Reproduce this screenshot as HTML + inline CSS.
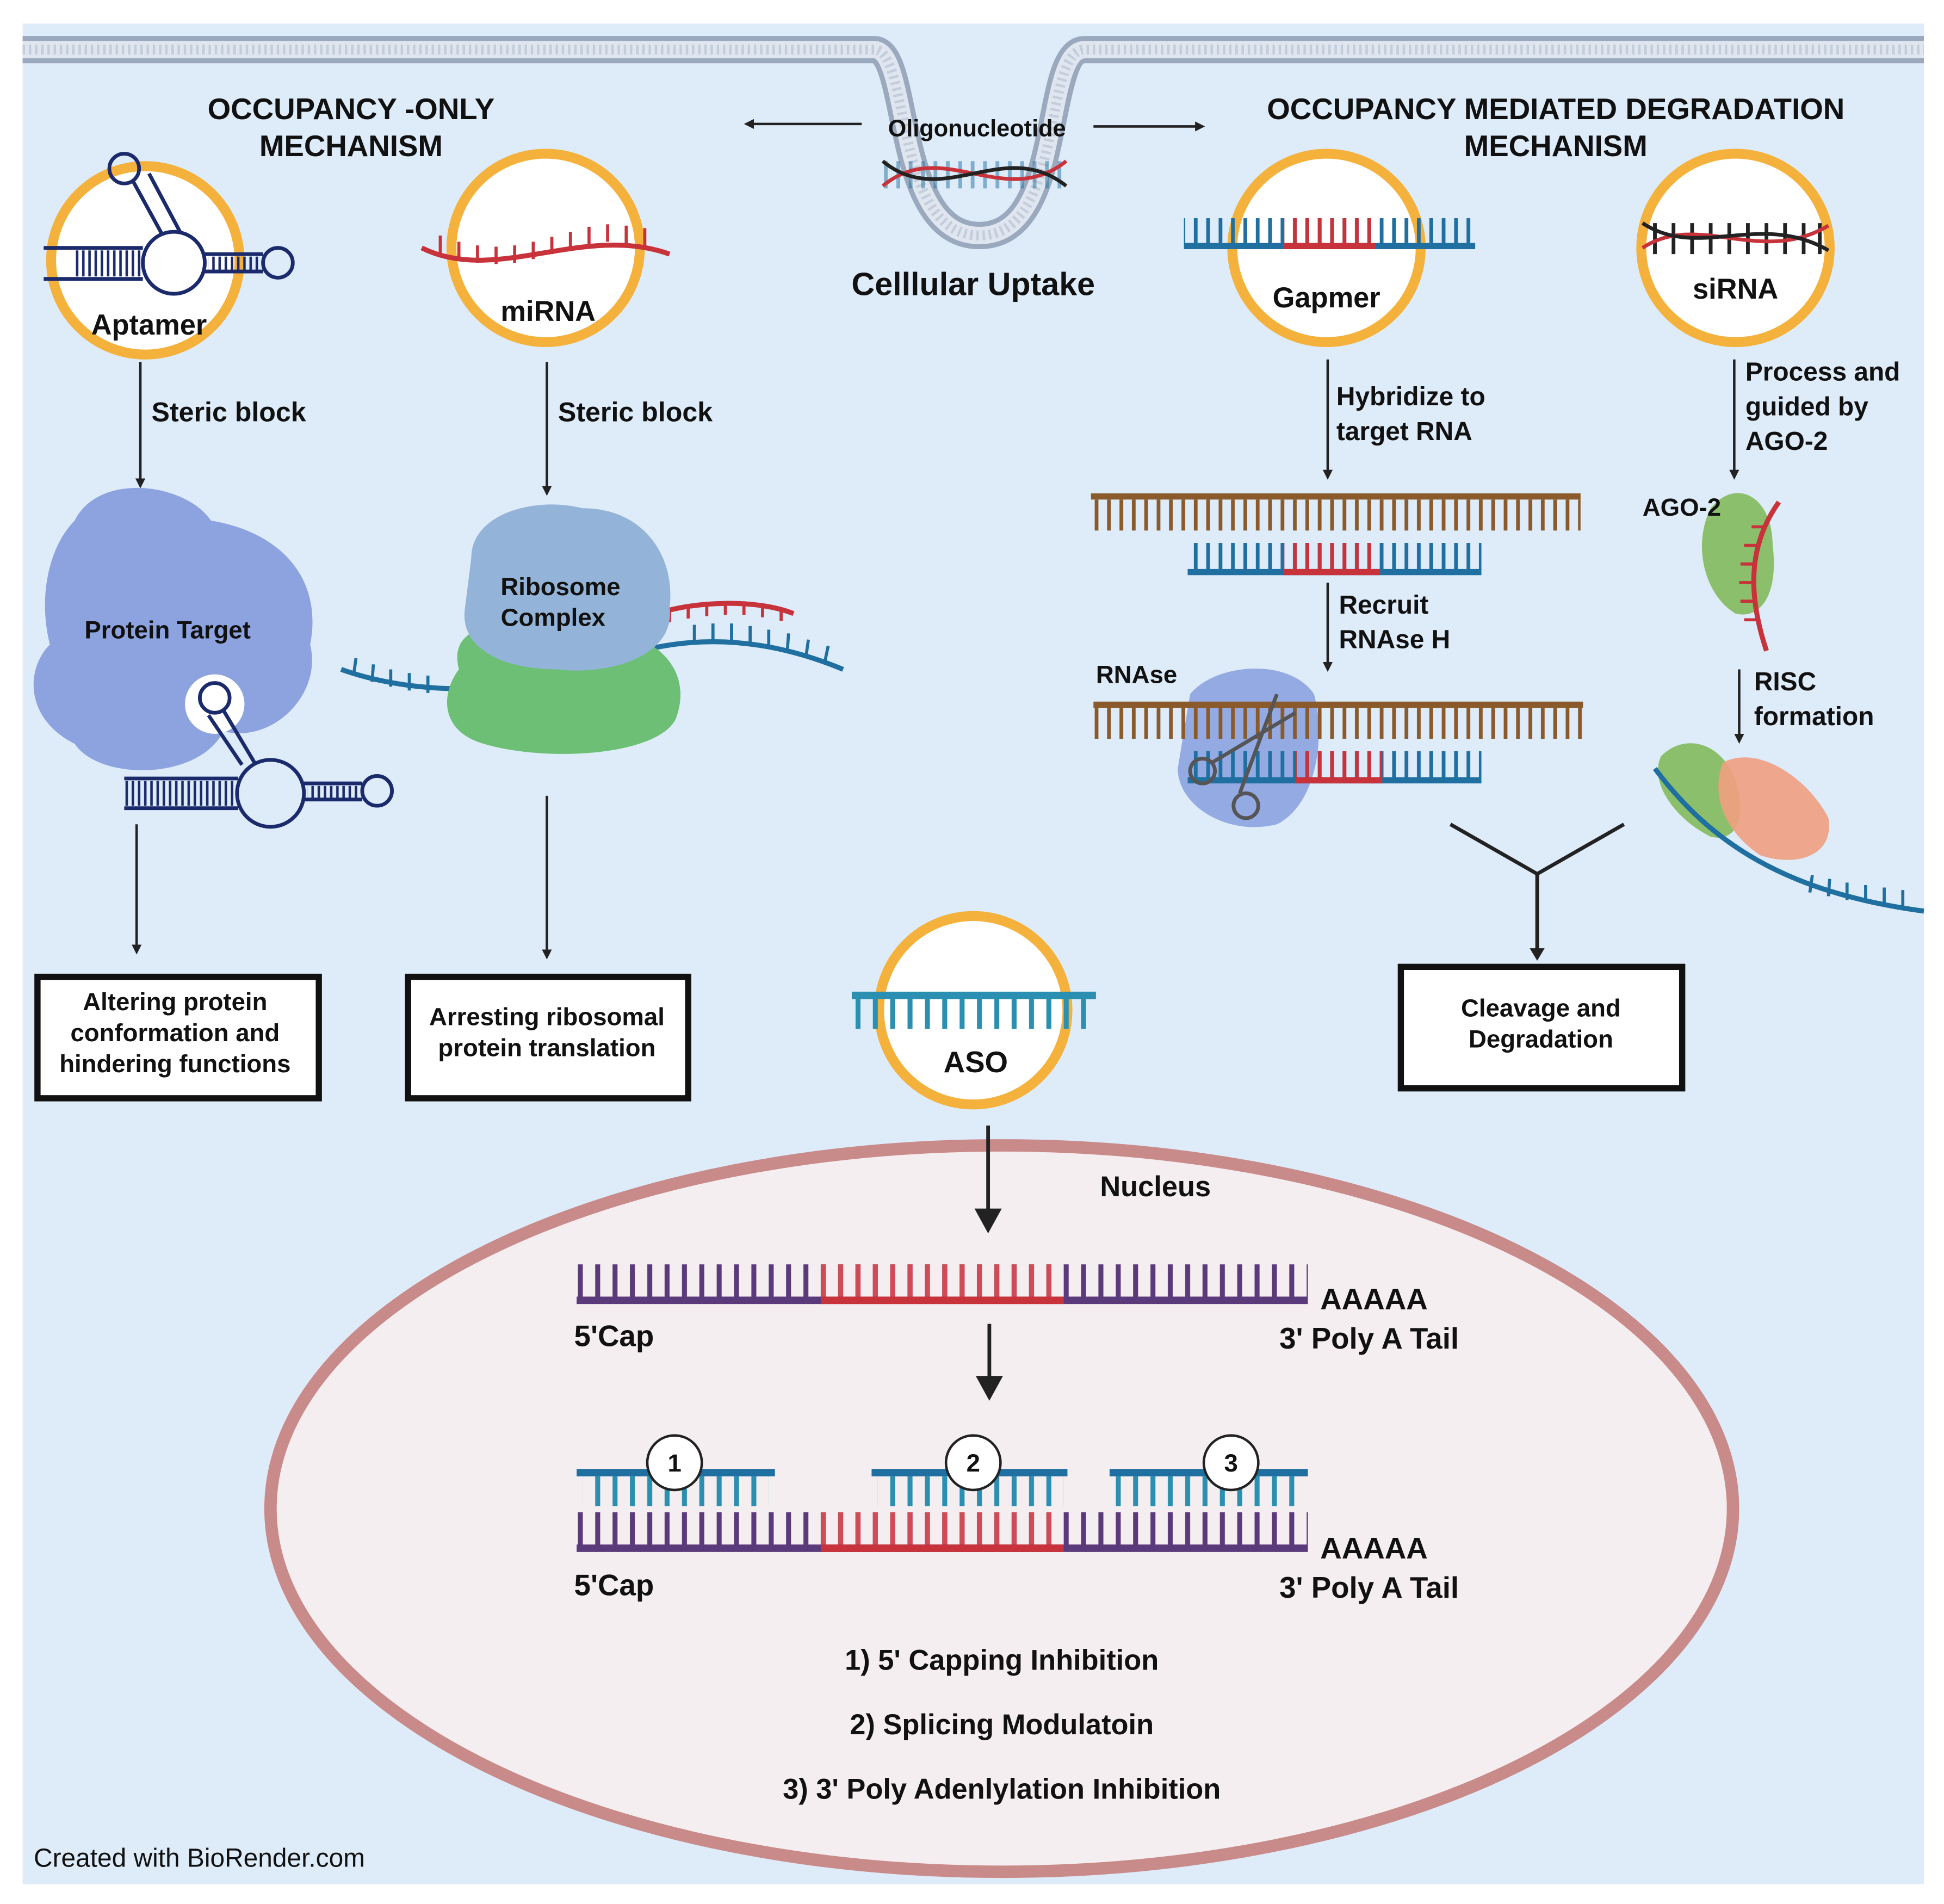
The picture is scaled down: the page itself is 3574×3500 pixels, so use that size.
<!DOCTYPE html>
<html><head><meta charset="utf-8"><style>
html,body{margin:0;padding:0;background:#fff}
svg{display:block}
text{font-family:"Liberation Sans",sans-serif;font-weight:bold;fill:#111}
</style></head><body>
<svg width="3574" height="3500" viewBox="0 0 1568 1536" xmlns="http://www.w3.org/2000/svg">
<defs>
<marker id="ar" markerWidth="8" markerHeight="8" refX="6" refY="4" orient="auto" markerUnits="userSpaceOnUse"><path d="M0,0 L8,4 L0,8 z" fill="#222"/></marker>
<pattern id="tickB" width="10" height="20" patternUnits="userSpaceOnUse"><rect x="3" y="0" width="3" height="20" fill="#1f6fa0"/></pattern>
<pattern id="tickR" width="10" height="20" patternUnits="userSpaceOnUse"><rect x="3" y="0" width="3" height="20" fill="#c8323a"/></pattern>
<pattern id="tickBr" width="10" height="30" patternUnits="userSpaceOnUse"><rect x="3" y="0" width="3" height="30" fill="#8a5a2b"/></pattern>
<pattern id="tickP" width="14" height="30" patternUnits="userSpaceOnUse"><rect x="4" y="0" width="4" height="30" fill="#5a3a7a"/></pattern>
<pattern id="tickPR" width="14" height="30" patternUnits="userSpaceOnUse"><rect x="4" y="0" width="4" height="30" fill="#d04b55"/></pattern>
<pattern id="tickT" width="14" height="30" patternUnits="userSpaceOnUse"><rect x="4" y="0" width="4" height="30" fill="#2a8fb0"/></pattern>
<pattern id="tickN" width="5" height="30" patternUnits="userSpaceOnUse"><rect x="1" y="0" width="2" height="30" fill="#1b2a6b"/></pattern>
</defs>
<rect x="18" y="19" width="1534" height="1501" fill="#deebf9"/>
<!-- membrane -->
<path d="M18,40 H705 C735,40 720,190 790,190 C860,190 840,40 875,40 H1552" fill="none" stroke="#9aa9bd" stroke-width="22"/>
<path d="M18,40 H705 C735,40 720,190 790,190 C860,190 840,40 875,40 H1552" fill="none" stroke="#dfe6ef" stroke-width="14"/>
<path d="M18,40 H705 C735,40 720,190 790,190 C860,190 840,40 875,40 H1552" fill="none" stroke="#c3cddb" stroke-width="8" stroke-dasharray="2 3"/>
<!-- headings -->
<text x="283" y="96" font-size="24" text-anchor="middle">OCCUPANCY -ONLY</text>
<text x="283" y="126" font-size="24" text-anchor="middle">MECHANISM</text>
<text x="1255" y="96" font-size="24" text-anchor="middle">OCCUPANCY MEDIATED DEGRADATION</text>
<text x="1255" y="126" font-size="24" text-anchor="middle">MECHANISM</text>
<text x="788" y="110" font-size="19" text-anchor="middle">Oligonucleotide</text>
<text x="785" y="238" font-size="26" text-anchor="middle">Celllular  Uptake</text>
<line x1="695" y1="100" x2="602" y2="100" stroke="#222" stroke-width="2" marker-end="url(#ar)"/>
<line x1="882" y1="102" x2="970" y2="102" stroke="#222" stroke-width="2" marker-end="url(#ar)"/>
<!-- oligo in pit -->
<rect x="712" y="130" width="148" height="22" fill="url(#tickB)" opacity="0.5"/>
<path d="M712,150 C760,110 810,170 860,130" fill="none" stroke="#c8323a" stroke-width="3"/>
<path d="M712,130 C760,170 810,110 860,150" fill="none" stroke="#222" stroke-width="3"/>
<!-- circles -->
<g fill="#fff" stroke="#f4b13c" stroke-width="8">
<circle cx="117" cy="210" r="76"/><circle cx="440" cy="200" r="76"/>
<circle cx="1070" cy="200" r="76"/><circle cx="1400" cy="200" r="76"/>
<circle cx="785" cy="815" r="76"/>
</g>
<!-- aptamer -->
<rect x="60" y="202" width="55" height="21" fill="url(#tickN)"/>
<rect x="168" y="207" width="40" height="11" fill="url(#tickN)"/>
<rect x="100" y="630" width="90" height="20" fill="url(#tickN)"/>
<rect x="248" y="634" width="42" height="10" fill="url(#tickN)"/>
<g stroke="#1b2a6b" stroke-width="3" fill="none">
<circle cx="140" cy="212" r="25"/><circle cx="224" cy="212" r="12"/><circle cx="100" cy="136" r="12"/>
<path d="M35,200 H115 M35,225 H115 M165,205 H212 M165,219 H212 M107,146 L130,188 M120,140 L145,187"/>
</g>
<!-- miRNA -->
<path d="M340,200 C400,230 470,180 540,205" fill="none" stroke="#c8323a" stroke-width="4"/>
<path d="M355,204 v-14 M370,209 v-14 M385,212 v-14 M400,213 v-14 M415,212 v-14 M430,209 v-14 M445,205 v-14 M460,201 v-14 M475,197 v-14 M490,195 v-14 M505,196 v-14 M520,198 v-14" stroke="#c8323a" stroke-width="2.5"/>
<text x="442" y="259" font-size="23" text-anchor="middle">miRNA</text>
<text x="120" y="270" font-size="23" text-anchor="middle">Aptamer</text>
<!-- Steric blocks -->
<line x1="113" y1="292" x2="113" y2="392" stroke="#222" stroke-width="2" marker-end="url(#ar)"/>
<text x="122" y="340" font-size="22">Steric block</text>
<line x1="441" y1="292" x2="441" y2="398" stroke="#222" stroke-width="2" marker-end="url(#ar)"/>
<text x="450" y="340" font-size="22">Steric block</text>
<!-- protein target -->
<path d="M60,420 C80,380 150,390 170,420 C230,430 260,470 250,520 C260,560 220,600 180,590 C160,630 80,630 60,600 C20,580 20,540 40,520 C30,480 40,440 60,420 z" fill="#8ca3e0"/>
<text x="135" y="515" font-size="20" text-anchor="middle">Protein Target</text>
<circle cx="173" cy="568" r="24" fill="#fff"/>
<g stroke="#1b2a6b" stroke-width="3" fill="none">
<circle cx="218" cy="640" r="27"/><circle cx="304" cy="638" r="12"/><circle cx="173" cy="563" r="12"/>
<path d="M100,628 H192 M100,652 H192 M245,632 H292 M245,645 H292 M180,573 L205,615 M168,577 L195,617"/>
</g>
<!-- ribosome -->
<path d="M275,540 C330,560 420,565 500,530 C560,510 620,515 680,540" fill="none" stroke="#1f6fa0" stroke-width="4"/>
<path d="M285,545 l2,-14 M300,550 l1,-14 M315,554 v-14 M330,557 v-14 M345,559 v-14 M560,518 v-14 M575,517 v-14 M590,517 v-14 M605,519 v-14 M620,522 v-14 M635,525 l1,-14 M650,530 l2,-14 M665,535 l3,-14" stroke="#1f6fa0" stroke-width="2.5"/>
<path d="M530,495 C560,485 610,483 640,495" fill="none" stroke="#c8323a" stroke-width="4"/>
<path d="M540,492 v10 M555,489 v10 M570,487 v10 M585,486 v10 M600,486 v10 M615,488 v10 M630,491 v10" stroke="#c8323a" stroke-width="2.5"/>
<path d="M370,540 C360,500 410,500 460,505 C530,505 560,540 545,580 C530,610 440,615 390,600 C355,590 355,560 370,540 z" fill="#6cbf74"/>
<path d="M380,450 C380,415 430,400 470,410 C520,410 545,450 540,490 C545,530 490,545 450,540 C400,540 370,520 375,490 z" fill="#93b4d8"/>
<text x="452" y="480" font-size="20" text-anchor="middle">Ribosome</text>
<text x="446" y="505" font-size="20" text-anchor="middle">Complex</text>
<!-- bottom arrows left -->
<line x1="110" y1="665" x2="110" y2="768" stroke="#222" stroke-width="2" marker-end="url(#ar)"/>
<line x1="441" y1="642" x2="441" y2="772" stroke="#222" stroke-width="2" marker-end="url(#ar)"/>
<g fill="#fff" stroke="#111" stroke-width="5">
<rect x="30" y="788" width="227" height="98"/><rect x="329" y="788" width="226" height="98"/><rect x="1130" y="780" width="227" height="98"/>
</g>
<text font-size="20" text-anchor="middle"><tspan x="141" y="815">Altering protein</tspan><tspan x="141" y="840">conformation and</tspan><tspan x="141" y="865">hindering functions</tspan></text>
<text font-size="20" text-anchor="middle"><tspan x="441" y="827">Arresting ribosomal</tspan><tspan x="441" y="852">protein translation</tspan></text>
<text font-size="20" text-anchor="middle"><tspan x="1243" y="820">Cleavage and</tspan><tspan x="1243" y="845">Degradation</tspan></text>
<!-- Gapmer -->
<rect x="955" y="176" width="235" height="20" fill="url(#tickB)"/>
<rect x="1035" y="176" width="75" height="20" fill="url(#tickR)"/>
<rect x="955" y="196" width="235" height="5" fill="#1f6fa0"/><rect x="1035" y="196" width="75" height="5" fill="#c8323a"/>
<text x="1070" y="248" font-size="23" text-anchor="middle">Gapmer</text>
<line x1="1071" y1="290" x2="1071" y2="385" stroke="#222" stroke-width="2" marker-end="url(#ar)"/>
<text font-size="21"><tspan x="1078" y="327">Hybridize to</tspan><tspan x="1078" y="355">target RNA</tspan></text>
<rect x="880" y="398" width="395" height="5" fill="#8a5a2b"/><rect x="880" y="403" width="395" height="25" fill="url(#tickBr)"/>
<rect x="958" y="438" width="237" height="22" fill="url(#tickB)"/><rect x="1035" y="438" width="78" height="22" fill="url(#tickR)"/>
<rect x="958" y="459" width="237" height="5" fill="#1f6fa0"/><rect x="1035" y="459" width="78" height="5" fill="#c8323a"/>
<line x1="1071" y1="470" x2="1071" y2="540" stroke="#222" stroke-width="2" marker-end="url(#ar)"/>
<text font-size="21"><tspan x="1080" y="495">Recruit</tspan><tspan x="1080" y="523">RNAse H</tspan></text>
<text x="884" y="551" font-size="20">RNAse</text>
<path d="M960,560 C980,535 1040,530 1060,560 C1070,600 1060,650 1030,665 C990,675 950,650 950,620 z" fill="#8ca3e0" opacity="0.9"/>
<rect x="882" y="566" width="395" height="5" fill="#8a5a2b"/><rect x="882" y="571" width="395" height="25" fill="url(#tickBr)"/>
<rect x="958" y="606" width="237" height="22" fill="url(#tickB)"/><rect x="1045" y="606" width="70" height="22" fill="url(#tickR)"/>
<rect x="958" y="627" width="237" height="5" fill="#1f6fa0"/><rect x="1045" y="627" width="70" height="5" fill="#c8323a"/>
<g stroke="#555" stroke-width="3" fill="none"><circle cx="970" cy="622" r="10"/><circle cx="1005" cy="650" r="10"/><path d="M978,615 L1045,575 M1000,640 L1030,560"/></g>
<path d="M1170,665 L1240,705 L1310,665 M1240,705 V772" fill="none" stroke="#222" stroke-width="3"/>
<path d="M1234,765 L1246,765 L1240,775 z" fill="#222"/>
<!-- siRNA -->
<g stroke="#222" stroke-width="3"><path d="M1335,180 V205 M1350,180 V205 M1365,180 V205 M1380,180 V205 M1395,180 V205 M1410,180 V205 M1425,180 V205 M1440,180 V205 M1455,180 V205 M1468,180 V205"/></g>
<path d="M1325,200 C1370,170 1420,215 1475,182" fill="none" stroke="#c8323a" stroke-width="3"/>
<path d="M1325,180 C1370,210 1420,170 1475,202" fill="none" stroke="#222" stroke-width="3"/>
<text x="1400" y="241" font-size="23" text-anchor="middle">siRNA</text>
<line x1="1399" y1="290" x2="1399" y2="385" stroke="#222" stroke-width="2" marker-end="url(#ar)"/>
<text font-size="21"><tspan x="1408" y="307">Process and</tspan><tspan x="1408" y="335">guided by</tspan><tspan x="1408" y="363">AGO-2</tspan></text>
<path d="M1380,410 C1400,385 1430,400 1430,440 C1435,480 1420,500 1400,495 C1375,480 1365,440 1380,410 z" fill="#8cbf6c"/>
<text x="1325" y="416" font-size="20">AGO-2</text>
<path d="M1435,405 C1410,440 1410,480 1425,525" fill="none" stroke="#c8323a" stroke-width="4"/>
<path d="M1425,425 h-12 M1419,440 h-12 M1416,455 h-12 M1415,470 h-12 M1416,485 h-12 M1419,500 h-12" stroke="#c8323a" stroke-width="2.5"/>
<line x1="1403" y1="540" x2="1403" y2="598" stroke="#222" stroke-width="2" marker-end="url(#ar)"/>
<text font-size="21"><tspan x="1415" y="557">RISC</tspan><tspan x="1415" y="585">formation</tspan></text>
<path d="M1340,610 C1360,590 1390,600 1400,630 C1410,660 1400,680 1380,675 C1350,660 1330,630 1340,610 z" fill="#8cbf6c"/>
<path d="M1390,615 C1420,600 1460,630 1475,660 C1480,690 1450,700 1420,690 C1390,670 1380,640 1390,615 z" fill="#f0a080" opacity="0.9"/>
<path d="M1335,620 C1380,680 1440,720 1552,735" fill="none" stroke="#1f6fa0" stroke-width="4"/>
<path d="M1460,720 l2,-14 M1475,723 l1,-14 M1490,726 v-14 M1505,728 v-14 M1520,730 v-14 M1535,732 v-14" stroke="#1f6fa0" stroke-width="2.5"/>
<!-- ASO -->
<rect x="687" y="800" width="197" height="6" fill="#2a8fb0"/><rect x="690" y="806" width="190" height="24" fill="url(#tickT)"/>
<text x="787" y="865" font-size="24" text-anchor="middle">ASO</text>
<!-- nucleus -->
<ellipse cx="808" cy="1217" rx="590" ry="293" fill="#f5eef0" stroke="#c98a8a" stroke-width="10"/>
<line x1="797" y1="908" x2="797" y2="985" stroke="#222" stroke-width="3"/>
<path d="M786,975 L808,975 L797,995 z" fill="#222"/>
<text x="932" y="965" font-size="23" text-anchor="middle">Nucleus</text>
<rect x="465" y="1020" width="590" height="28" fill="url(#tickP)"/><rect x="662" y="1020" width="196" height="28" fill="url(#tickPR)"/>
<rect x="465" y="1046" width="590" height="6" fill="#5a3a7a"/><rect x="662" y="1046" width="196" height="6" fill="#c8323a"/>
<text x="1065" y="1056" font-size="24">AAAAA</text>
<text x="463" y="1086" font-size="24">5'Cap</text>
<text x="1032" y="1088" font-size="24">3' Poly A Tail</text>
<line x1="798" y1="1068" x2="798" y2="1115" stroke="#222" stroke-width="3"/>
<path d="M787,1110 L809,1110 L798,1130 z" fill="#222"/>
<rect x="465" y="1220" width="590" height="28" fill="url(#tickP)"/><rect x="662" y="1220" width="196" height="28" fill="url(#tickPR)"/>
<rect x="465" y="1246" width="590" height="6" fill="#5a3a7a"/><rect x="662" y="1246" width="196" height="6" fill="#c8323a"/>
<rect x="465" y="1185" width="160" height="6" fill="#1f6fa0"/><rect x="470" y="1191" width="150" height="24" fill="url(#tickT)"/>
<rect x="703" y="1185" width="158" height="6" fill="#1f6fa0"/><rect x="708" y="1191" width="150" height="24" fill="url(#tickT)"/>
<rect x="895" y="1185" width="160" height="6" fill="#1f6fa0"/><rect x="900" y="1191" width="150" height="24" fill="url(#tickT)"/>
<g fill="#fff" stroke="#222" stroke-width="2"><circle cx="544" cy="1180" r="22"/><circle cx="785" cy="1180" r="22"/><circle cx="993" cy="1180" r="22"/></g>
<text x="544" y="1187" font-size="20" text-anchor="middle">1</text>
<text x="785" y="1187" font-size="20" text-anchor="middle">2</text>
<text x="993" y="1187" font-size="20" text-anchor="middle">3</text>
<text x="1065" y="1257" font-size="24">AAAAA</text>
<text x="463" y="1287" font-size="24">5'Cap</text>
<text x="1032" y="1289" font-size="24">3' Poly A Tail</text>
<text x="808" y="1347" font-size="23" text-anchor="middle">1) 5' Capping Inhibition</text>
<text x="808" y="1399" font-size="23" text-anchor="middle">2) Splicing Modulatoin</text>
<text x="808" y="1451" font-size="23" text-anchor="middle">3) 3' Poly Adenlylation Inhibition</text>
<text x="27" y="1506" font-size="21" style="font-weight:normal">Created with BioRender.com</text>
</svg>
</body></html>
